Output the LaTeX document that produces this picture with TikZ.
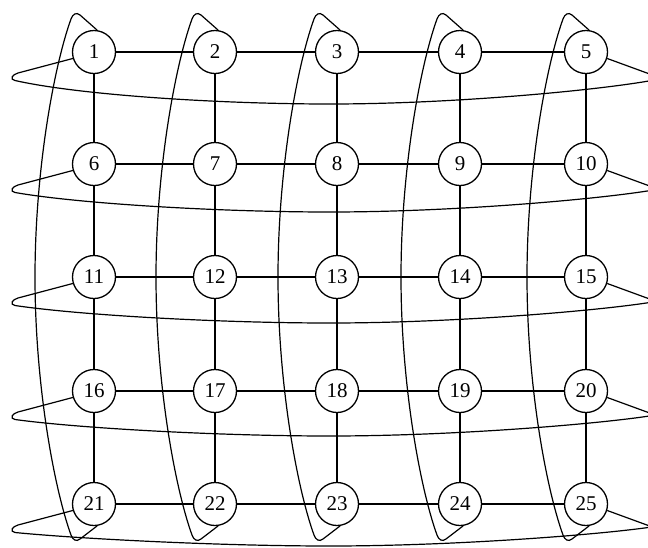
\documentclass[tikz,border=0pt]{standalone}
\usepackage{fontspec}
\setmainfont{Liberation Serif}
\begin{document}
\begin{tikzpicture}[x=0.5pt,y=-0.5pt,line width=0.6pt,
  vnode/.style={circle,draw,line width=0.65pt,minimum size=21.5pt,inner sep=0pt,font=\fontsize{10.5}{12}\selectfont},
  wrap/.style={line width=0.6pt}]
\useasboundingbox (0,0) rectangle (648,547);
\clip (0,0) rectangle (648,547);
% nodes
\foreach \r [count=\i from 0] in {52,164,277,391,504} {
  \foreach \c [count=\j from 1] in {94,215,337,460,586} {
    \pgfmathtruncatemacro\k{\i*5+\j}
    \node[vnode] (n\k) at (\c,\r) {\k};
  }
}
% horizontal edges
\foreach \i in {0,...,4} {
  \foreach \j in {1,...,4} {
    \pgfmathtruncatemacro\a{\i*5+\j}
    \pgfmathtruncatemacro\b{\a+1}
    \draw (n\a) -- (n\b);
  }
}
% vertical edges
\foreach \k in {1,...,20} {
  \pgfmathtruncatemacro\b{\k+5}
  \draw (n\k) -- (n\b);
}
% row wraparounds
\foreach \yr/\d [count=\i from 0] in {52/52,164/48,277/46,391/45,504/42} {
  \pgfmathtruncatemacro\L{\i*5+1}
  \pgfmathtruncatemacro\R{\i*5+5}
  \draw[wrap] (n\L.197) -- (18,{\yr+21})
    .. controls (12.5,{\yr+22.5}) and (9,{\yr+27.4}) .. (15,{\yr+28.5})
    .. controls (80,{\yr+0.83*\d}) and (220,{\yr+\d}) .. (330,{\yr+\d})
    .. controls (450,{\yr+\d}) and (590,{\yr+0.75*\d}) .. (648,{\yr+0.56*\d})
    .. controls (653,{\yr+0.54*\d}) and (655,{\yr+24}) .. (651,{\yr+22.5})
    -- (n\R.-17);
}
% column wraparounds
\foreach \cx [count=\j from 1] in {94,215,337,460,586} {
  \pgfmathtruncatemacro\B{20+\j}
  \draw[wrap] (n\j.82) -- ({\cx-14},15)
    .. controls ({\cx-17.75},11.7) and ({\cx-21.3},14.3) .. ({\cx-23},19)
    .. controls ({\cx-40},66) and ({\cx-59},170) .. ({\cx-59},277)
    .. controls ({\cx-59},384) and ({\cx-40},488) .. ({\cx-23},535)
    .. controls ({\cx-21.3},539.7) and ({\cx-17.85},542.2) .. ({\cx-14},539)
    -- (n\B.-82);
}
\end{tikzpicture}
\end{document}
